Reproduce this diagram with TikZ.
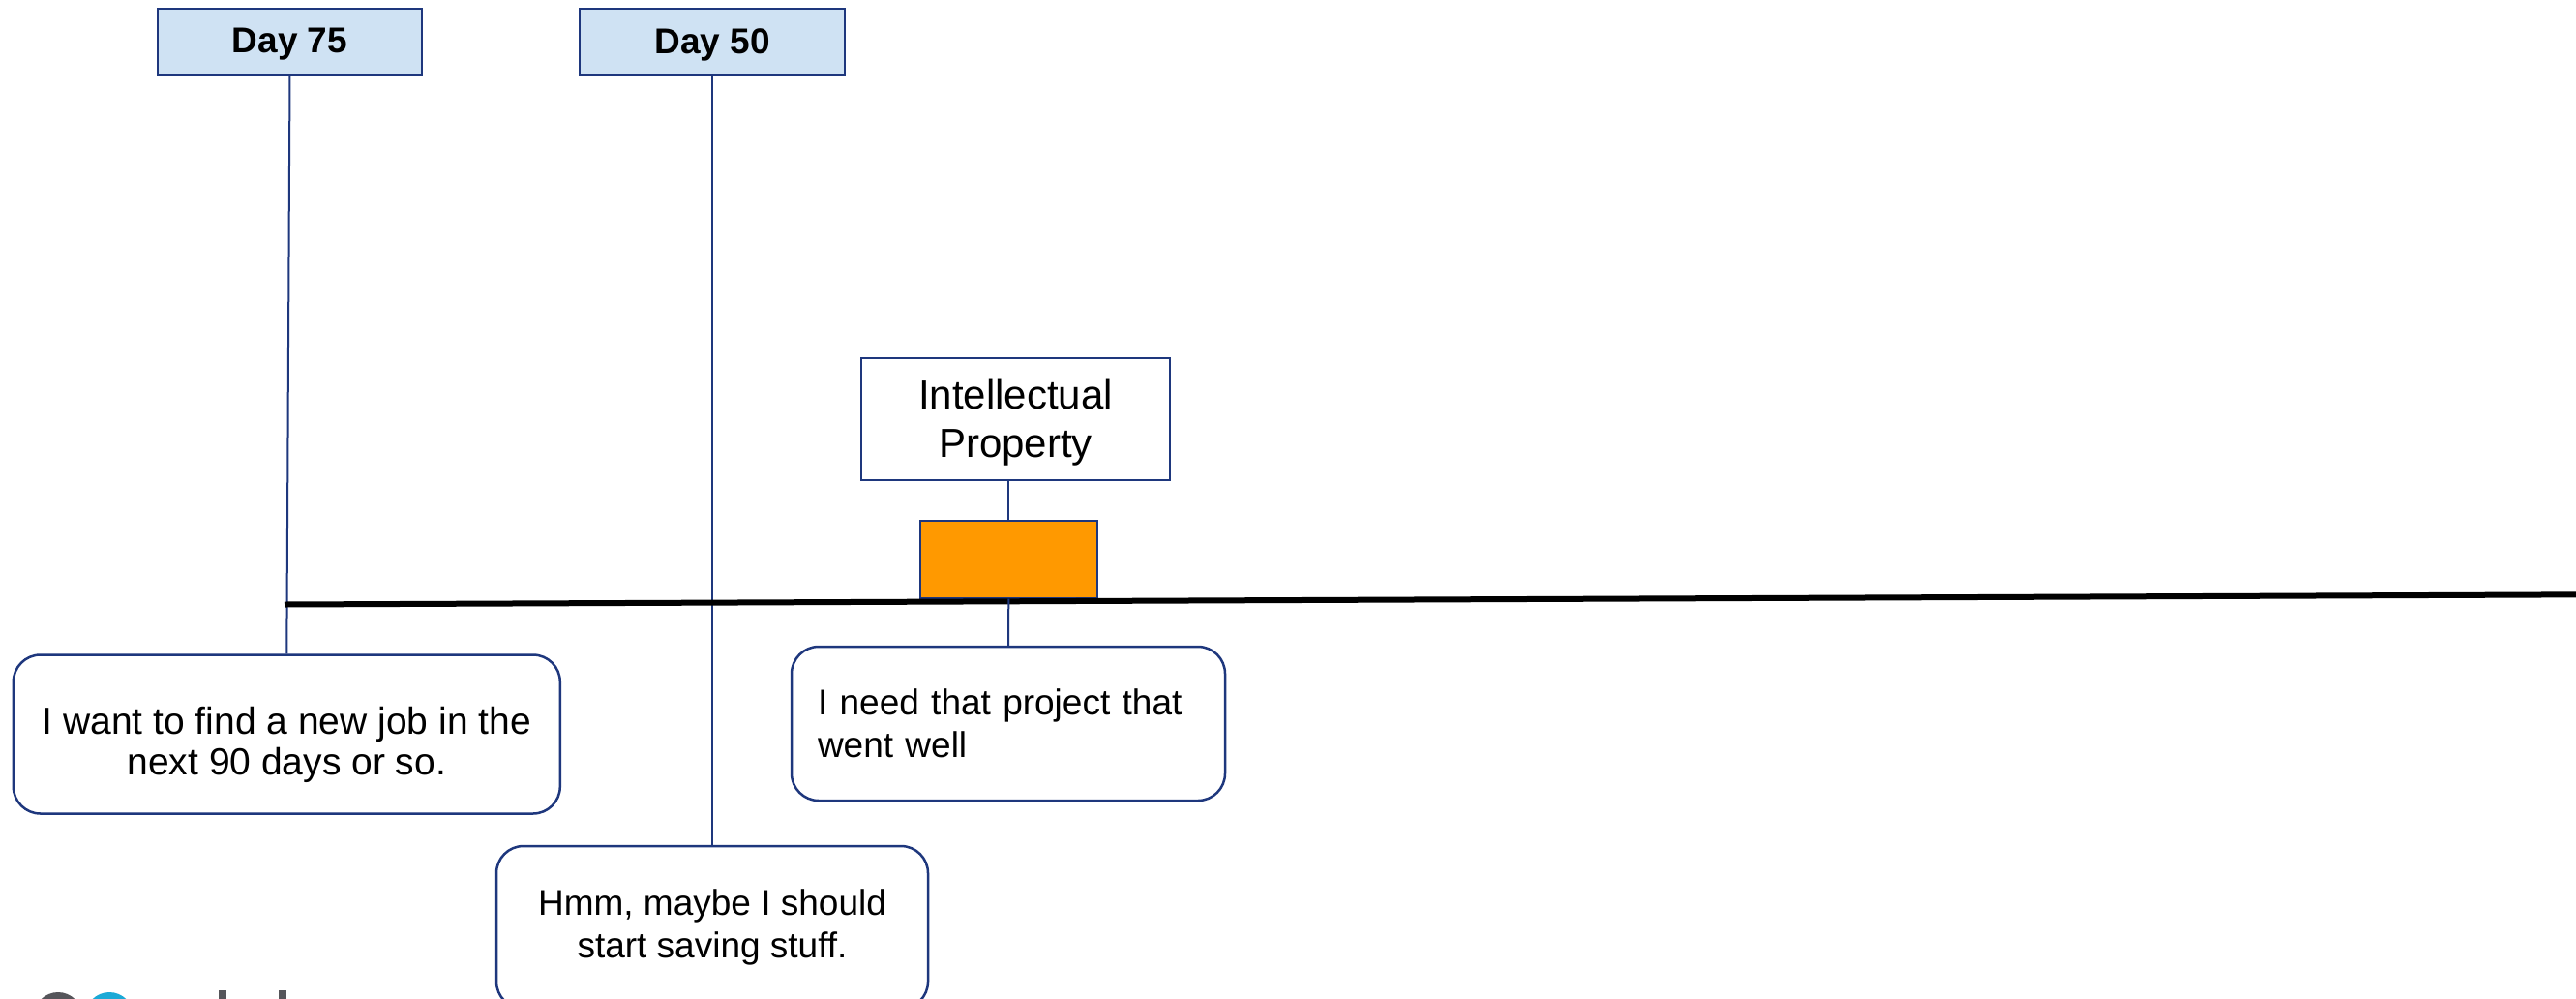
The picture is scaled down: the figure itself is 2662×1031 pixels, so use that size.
\documentclass[tikz,border=0pt]{standalone}
\usepackage{fontspec}
\setmainfont{Liberation Sans}
\definecolor{navy}{RGB}{30,55,125}
\definecolor{dayfill}{RGB}{207,226,243}
\definecolor{ipfill}{RGB}{255,153,0}
\definecolor{logogray}{RGB}{85,85,90}
\definecolor{logocyan}{RGB}{27,169,214}
\begin{document}
\begin{tikzpicture}[x=1pt,y=-1pt,
  daybox/.style={draw=navy, line width=2pt, fill=dayfill, inner sep=0pt},
  daytext/.style={inner sep=0pt, font=\fontsize{37}{44}\selectfont\bfseries},
  topicbox/.style={draw=navy, line width=2pt, fill=white, inner sep=0pt},
  topictext/.style={inner sep=0pt, align=center, font=\fontsize{42}{50}\selectfont},
  markbox/.style={draw=navy, line width=2pt, fill=ipfill, inner sep=0pt},
  notebox/.style={draw=navy, line width=2.5pt, fill=white, rounded corners=28pt,
    inner sep=0pt, align=center, font=\fontsize{37}{44}\selectfont},
  notetext/.style={inner sep=0pt, align=center, font=\fontsize{39}{42}\selectfont},
  link/.style={draw=navy, line width=2pt},
  axis/.style={draw=black, line width=6pt}
]
\clip (0,0) rectangle (2662,1031);
\fill[white] (0,0) rectangle (2662,1031);

% partial logo along the lower edge
\fill[logogray] (60,1050) circle[radius=25];
\fill[logocyan] (113,1050) circle[radius=25];
\fill[logogray] (226,1023) rectangle (234,1040);
\fill[logogray] (288,1023) rectangle (296,1040);

% day markers
\node[daybox, minimum width=273pt, minimum height=68pt] (d75) at (299.5,42.5) {};
\node[daytext] (d75text) at (299.5,46) {Day 75};
\node[daybox, minimum width=274pt, minimum height=68pt] (d50) at (736,42.5) {};
\node[daytext] (d50text) at (736,46) {Day 50};

% topic box
\node[topicbox, minimum width=319pt, minimum height=126pt] (ip) at (1049.5,433) {};
\node[topictext] (iptext) at (1049.5,437) {Intellectual\\Property};

% notes below the timeline
\node[notebox, minimum width=565pt, minimum height=164pt] (want) at (296.3,758.5) {};
\node[notetext] (wanttext) at (296.3,769)
  {I want to find a new job in the\\next 90 days or so.};
\node[notebox, minimum width=448pt, minimum height=159pt, align=left,
  text width=394pt] (need) at (1042,747.5)
  {I need that project that\\went well};
\node[notebox, minimum width=446pt, minimum height=168pt] (hmm) at (736,958)
  {Hmm, maybe I should\\start saving stuff.};

% connectors from the day markers
\draw[link] (d75.south) -- (want.north);
\draw[link] (d50.south) -- (hmm.north);

% marker on the timeline, tied to its topic
\node[markbox, minimum width=183pt, minimum height=80pt] (mark) at (1042.3,577.7) {};
\draw[link] (mark.north) -- (mark.north |- ip.south);

% timeline
\coordinate (tlstart) at (294,624.5);
\coordinate (tlend) at (2670,614.3);
\draw[axis] (tlstart) -- (tlend);

\draw[link] (mark.south) -- (need.north);
\end{tikzpicture}
\end{document}
